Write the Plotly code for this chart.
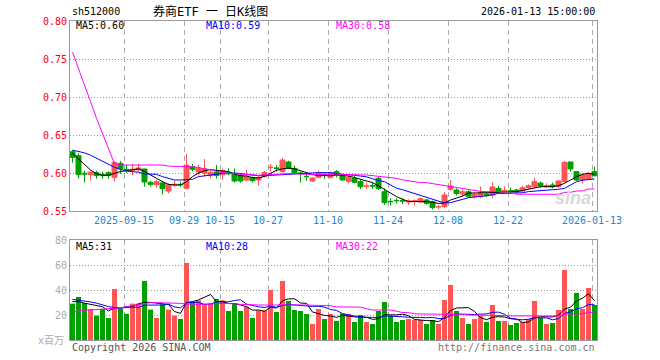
import pandas as pd
import plotly.graph_objects as go

# ---------------- data ----------------
holidays = ["2025-10-01", "2025-10-02", "2025-10-03", "2025-10-06", "2025-10-07", "2025-10-08",
            "2026-01-01", "2026-01-02"]
dates = [d.strftime("%Y-%m-%d") for d in pd.bdate_range("2025-09-02", "2026-01-13")
         if d.strftime("%Y-%m-%d") not in holidays]

tick_dates = ["2025-09-15", "2025-09-29", "2025-10-15", "2025-10-27", "2025-11-10",
              "2025-11-24", "2025-12-08", "2025-12-22", "2026-01-13"]
tick_text = ["2025-09-15", "09-29", "10-15", "10-27", "11-10", "11-24", "12-08", "12-22", "2026-01-13"]

open_ = [0.628, 0.6228, 0.5996, 0.5978, 0.6004, 0.5978, 0.6004, 0.5943, 0.6127, 0.6048,
         0.6035, 0.604, 0.6053, 0.5877, 0.5847, 0.5868, 0.5763, 0.5842, 0.5851, 0.5798,
         0.6083, 0.6013, 0.5996, 0.5965, 0.6009, 0.5978, 0.600, 0.5996, 0.5965, 0.5908,
         0.5939, 0.5908, 0.5952, 0.6070, 0.6066, 0.6018, 0.6145, 0.6061, 0.600, 0.5955,
         0.5895, 0.5943, 0.5982, 0.5943, 0.6018, 0.5961, 0.589, 0.593, 0.5886, 0.5825,
         0.5834, 0.593, 0.5754, 0.5627, 0.5640, 0.5636, 0.5618, 0.5627, 0.5618, 0.5645,
         0.5623, 0.5553, 0.5557, 0.5785, 0.5776, 0.5724, 0.5754, 0.5693, 0.5689, 0.5724,
         0.5711, 0.5798, 0.5746, 0.5768, 0.5776, 0.5763, 0.5807, 0.582, 0.5868, 0.582,
         0.5842, 0.582, 0.5886, 0.6145, 0.6018, 0.5908, 0.5921, 0.6018]
high = [0.630, 0.626, 0.603, 0.6013, 0.603, 0.6018, 0.6022, 0.6154, 0.6158, 0.6105,
        0.6118, 0.6118, 0.6053, 0.5899, 0.5908, 0.5899, 0.5864, 0.5899, 0.5886, 0.625,
        0.6118, 0.6105, 0.6184, 0.604, 0.6105, 0.6057, 0.6061, 0.6061, 0.5996, 0.604,
        0.5952, 0.596, 0.6026, 0.6118, 0.6105, 0.6197, 0.6162, 0.6101, 0.6018, 0.5996,
        0.5943, 0.6031, 0.6004, 0.6018, 0.604, 0.5974, 0.596, 0.596, 0.5908, 0.5873,
        0.5873, 0.5952, 0.5798, 0.5667, 0.5667, 0.5667, 0.5653, 0.5653, 0.568, 0.5658,
        0.5636, 0.5579, 0.5746, 0.5908, 0.5798, 0.5776, 0.5772, 0.5746, 0.582, 0.5754,
        0.5877, 0.5833, 0.5825, 0.5807, 0.579, 0.5833, 0.5851, 0.5939, 0.5886, 0.5864,
        0.5873, 0.5904, 0.6158, 0.6149, 0.6026, 0.5996, 0.6009, 0.6083]
low = [0.6136, 0.593, 0.5873, 0.590, 0.5925, 0.5925, 0.5925, 0.589, 0.599, 0.600,
       0.597, 0.6018, 0.582, 0.582, 0.5807, 0.5715, 0.5732, 0.582, 0.582, 0.5785,
       0.6018, 0.597, 0.5952, 0.593, 0.5925, 0.5908, 0.5969, 0.5873, 0.5873, 0.589,
       0.5873, 0.5833, 0.5943, 0.6018, 0.6018, 0.6004, 0.6048, 0.5982, 0.5873, 0.5899,
       0.5886, 0.593, 0.5921, 0.593, 0.5943, 0.5899, 0.5864, 0.5864, 0.579, 0.579,
       0.579, 0.5776, 0.5579, 0.557, 0.5601, 0.5592, 0.5579, 0.557, 0.561, 0.5583,
       0.5522, 0.5522, 0.5535, 0.5768, 0.5706, 0.5689, 0.5675, 0.5667, 0.5667, 0.5684,
       0.5667, 0.5732, 0.5728, 0.5728, 0.5737, 0.5746, 0.5789, 0.5798, 0.5807, 0.5807,
       0.5798, 0.5798, 0.5877, 0.6018, 0.5895, 0.5864, 0.5908, 0.5952]
close = [0.6206, 0.5978, 0.5987, 0.6013, 0.5965, 0.5969, 0.5969, 0.614, 0.6057, 0.6040,
         0.6048, 0.6066, 0.5882, 0.5851, 0.5886, 0.5794, 0.5846, 0.5851, 0.5846, 0.6105,
         0.6048, 0.6066, 0.6057, 0.6009, 0.5965, 0.6031, 0.5991, 0.5895, 0.5895, 0.5952,
         0.5899, 0.5939, 0.6009, 0.6075, 0.6061, 0.6171, 0.6061, 0.5996, 0.5996, 0.5952,
         0.5934, 0.6004, 0.5974, 0.6004, 0.5974, 0.5908, 0.5943, 0.5877, 0.582, 0.5829,
         0.5829, 0.5798, 0.561, 0.5623, 0.5636, 0.5632, 0.5632, 0.5636, 0.5662, 0.5601,
         0.5544, 0.5557, 0.571, 0.5829, 0.5732, 0.5754, 0.5693, 0.5719, 0.5737, 0.5711,
         0.5816, 0.5754, 0.5772, 0.5754, 0.5754, 0.5807, 0.5833, 0.5886, 0.5829, 0.5833,
         0.582, 0.5895, 0.614, 0.6053, 0.5908, 0.5974, 0.5996, 0.5965]

ma5 = [0.626, 0.619, 0.611, 0.604, 0.599, 0.597, 0.597, 0.5996, 0.602, 0.603,
       0.604, 0.6055, 0.602, 0.597, 0.593, 0.5886, 0.585, 0.5842, 0.5842, 0.5886,
       0.5952, 0.600, 0.603, 0.6045, 0.603, 0.6025, 0.602, 0.5985, 0.5965, 0.596,
       0.594, 0.5935, 0.5955, 0.599, 0.6035, 0.6055, 0.6065, 0.6055, 0.603, 0.600,
       0.598, 0.5965, 0.5965, 0.5965, 0.5975, 0.5965, 0.596, 0.594, 0.592, 0.589,
       0.5873, 0.583, 0.578, 0.5732, 0.569, 0.5655, 0.5625, 0.5625, 0.5625, 0.5623,
       0.5615, 0.560, 0.5605, 0.5645, 0.567, 0.5697, 0.5735, 0.5737, 0.5737, 0.5737,
       0.574, 0.5745, 0.5754, 0.5754, 0.5754, 0.577, 0.579, 0.5807, 0.582, 0.582,
       0.582, 0.5833, 0.5864, 0.5908, 0.5952, 0.5982, 0.5996, 0.598]
ma10 = [0.630, 0.6285, 0.6265, 0.6235, 0.6195, 0.615, 0.6118, 0.6075, 0.6048, 0.6026,
        0.6018, 0.601, 0.5987, 0.5987, 0.5983, 0.5952, 0.593, 0.5908, 0.5908, 0.5908,
        0.5917, 0.5952, 0.5965, 0.5975, 0.5985, 0.5995, 0.600, 0.600, 0.5995, 0.598,
        0.597, 0.5965, 0.5965, 0.597, 0.5975, 0.598, 0.5985, 0.599, 0.5995, 0.600,
        0.6002, 0.6005, 0.6005, 0.6005, 0.599, 0.5985, 0.598, 0.597, 0.596, 0.595,
        0.5925, 0.590, 0.5886, 0.584, 0.580, 0.578, 0.5754, 0.5725, 0.570, 0.5675,
        0.5655, 0.5625, 0.5605, 0.561, 0.563, 0.5645, 0.5675, 0.5684, 0.569, 0.570,
        0.5715, 0.5732, 0.5732, 0.5735, 0.5737, 0.574, 0.5755, 0.5763, 0.5765, 0.577,
        0.578, 0.5785, 0.5798, 0.5842, 0.5886, 0.5905, 0.591, 0.5921]
ma30 = [0.759, 0.738, 0.716, 0.694, 0.672, 0.652, 0.632, 0.612, 0.6105, 0.6105,
        0.6105, 0.6105, 0.6105, 0.6105, 0.6105, 0.6105, 0.609, 0.6085, 0.6085, 0.6085,
        0.6083, 0.6075, 0.605, 0.6045, 0.602, 0.6005, 0.5995, 0.599, 0.5985, 0.5975,
        0.597, 0.597, 0.5975, 0.598, 0.5985, 0.599, 0.5995, 0.5995, 0.5985, 0.598,
        0.598, 0.598, 0.5978, 0.5978, 0.5985, 0.598, 0.5975, 0.5974, 0.5974, 0.5974,
        0.5965, 0.5952, 0.5945, 0.594, 0.593, 0.591, 0.5895, 0.588, 0.5873, 0.5873,
        0.586, 0.5851, 0.584, 0.5825, 0.581, 0.580, 0.579, 0.5776, 0.5758, 0.5754,
        0.5754, 0.5754, 0.5754, 0.5754, 0.572, 0.572, 0.572, 0.572, 0.572, 0.572,
        0.572, 0.572, 0.5745, 0.5746, 0.5763, 0.5765, 0.5789, 0.579]

volume = [29.1, 34.4, 29.6, 24.8, 19.5, 24.8, 17.6, 40.8, 24.8, 21.0,
          29.1, 29.1, 47.2, 24.3, 17.6, 28.5, 24.3, 19.5, 16.8, 61.6,
          30.7, 31.7, 29.1, 29.1, 32.8, 31.7, 23.2, 29.1, 23.2, 26.4,
          17.6, 23.7, 23.7, 40.0, 22.4, 47.2, 31.2, 24.0, 23.2, 20.8,
          12.8, 24.8, 16.8, 20.8, 15.2, 21.3, 20.8, 14.4, 20.0, 14.4,
          12.8, 23.2, 30.4, 19.5, 14.4, 16.0, 16.8, 16.0, 16.0, 12.8,
          16.0, 12.8, 32.0, 44.0, 23.2, 17.6, 12.8, 16.8, 19.2, 14.4,
          28.0, 15.2, 15.2, 12.0, 13.6, 14.4, 16.8, 31.2, 17.6, 12.8,
          13.6, 24.0, 56.0, 24.8, 37.6, 24.8, 41.6, 28.0]
vma5 = [30.7, 30.7, 29.5, 28.5, 27.5, 26.6, 23.3, 25.5, 25.5, 25.8,
        26.7, 29.0, 30.2, 30.1, 29.5, 29.3, 28.4, 22.8, 21.3, 30.1,
        30.6, 32.1, 34.0, 36.4, 30.7, 30.9, 29.2, 29.2, 28.0, 26.7,
        23.9, 24.0, 22.9, 26.3, 25.5, 31.4, 32.9, 33.0, 29.6, 29.3,
        22.4, 21.1, 19.7, 19.2, 18.1, 19.8, 19.0, 18.5, 18.3, 18.2,
        16.5, 17.0, 20.2, 20.1, 20.1, 20.7, 19.4, 16.5, 15.8, 15.5,
        15.5, 14.7, 17.9, 23.5, 25.6, 25.9, 25.9, 22.9, 17.9, 16.2,
        18.2, 18.7, 18.4, 17.0, 16.8, 14.1, 14.4, 17.6, 18.7, 18.6,
        18.4, 19.8, 24.8, 26.2, 31.2, 33.4, 37.0, 31.4]
vma10 = [32.5, 32.0, 31.0, 30.5, 29.5, 28.0, 26.7, 26.0, 25.3, 26.6,
         26.6, 26.1, 27.9, 27.8, 27.6, 28.0, 28.7, 26.5, 25.7, 29.8,
         30.0, 30.2, 28.4, 28.9, 30.4, 30.7, 30.6, 31.6, 32.2, 28.7,
         27.4, 26.6, 26.0, 27.1, 26.1, 27.6, 28.4, 27.9, 27.9, 27.4,
         26.9, 27.0, 26.3, 24.4, 23.7, 21.1, 20.1, 19.1, 18.8, 18.1,
         18.1, 18.0, 19.3, 19.2, 19.1, 18.6, 18.2, 18.4, 18.0, 17.8,
         18.1, 17.1, 17.2, 19.7, 20.6, 20.7, 20.3, 20.4, 20.7, 20.9,
         22.1, 22.3, 20.6, 17.4, 16.5, 16.2, 16.6, 18.0, 17.8, 17.7,
         16.2, 17.1, 21.2, 22.5, 24.9, 25.9, 28.4, 28.1]
vma30 = [22.5, 23.5, 24.0, 24.0, 24.3, 24.5, 24.8, 25.3, 25.8, 26.7,
         27.5, 28.5, 29.5, 29.9, 29.9, 29.9, 29.5, 29.3, 29.3, 28.8,
         28.5, 28.5, 28.5, 28.5, 29.0, 29.3, 29.3, 29.0, 28.5, 28.2,
         28.0, 28.0, 28.0, 28.0, 28.2, 28.5, 28.5, 28.5, 28.3, 28.0,
         27.8, 27.6, 27.5, 27.4, 26.5, 26.5, 26.5, 26.5, 26.3, 25.0,
         24.0, 24.0, 24.0, 24.0, 23.0, 22.0, 21.9, 21.0, 20.8, 20.8,
         20.8, 20.8, 20.8, 20.8, 20.8, 20.5, 20.0, 20.0, 19.8, 19.8,
         19.6, 19.5, 19.5, 19.3, 19.2, 19.2, 19.2, 19.2, 19.2, 19.2,
         19.2, 19.5, 20.8, 20.8, 20.8, 21.0, 21.9, 22.3]

# ---------------- styling ----------------
RED = "#ff5555"
GREEN = "#00a000"
MONO = "DejaVu Sans Mono, Liberation Mono, monospace"
CJK = "DejaVu Sans Mono, Noto Sans CJK SC, sans-serif"

L, R, W, H = 70, 597, 660, 360
x = list(range(len(dates)))
edge = 2.5 / 6.0  # bar centre sits 2.5px right of the day's grid position
tickvals = [dates.index(d) - edge for d in tick_dates]
xrange = [-edge, (R - 72.5) / 6.0]

vol_colors = [RED if c >= o else GREEN for o, c in zip(open_, close)]

fig = go.Figure()
fig.add_trace(go.Candlestick(
    x=x, open=open_, high=high, low=low, close=close,
    increasing=dict(line=dict(color=RED, width=1), fillcolor=RED),
    decreasing=dict(line=dict(color=GREEN, width=1), fillcolor=GREEN),
    whiskerwidth=0, xaxis="x", yaxis="y", hoverinfo="skip"))
for vals, col in [(ma5, "#000000"), (ma10, "#0000ff"), (ma30, "#ff00ff")]:
    fig.add_trace(go.Scatter(x=x, y=vals, mode="lines", line=dict(color=col, width=1),
                             xaxis="x", yaxis="y", hoverinfo="skip"))

fig.add_trace(go.Bar(x=x, y=volume, marker=dict(color=vol_colors, line=dict(width=0)),
                     width=5 / 6.0, xaxis="x2", yaxis="y2", hoverinfo="skip"))
for vals, col in [(vma5, "#000000"), (vma10, "#0000ff"), (vma30, "#ff00ff")]:
    fig.add_trace(go.Scatter(x=x, y=vals, mode="lines", line=dict(color=col, width=1),
                             xaxis="x2", yaxis="y2", hoverinfo="skip"))

def py(px):
    return 1 - px / float(H)

common = dict(showline=True, mirror=True, linecolor="#999999", linewidth=1,
              zeroline=False, ticks="", fixedrange=True, automargin=False, showgrid=True,
              gridwidth=1)

fig.update_layout(
    template="none",
    width=W, height=H, autosize=False,
    margin=dict(l=L, r=W - R, t=0, b=0, pad=0),
    paper_bgcolor="white", plot_bgcolor="white",
    showlegend=False, boxmode="overlay", boxgap=0.17, boxgroupgap=0,
    xaxis=dict(domain=[0, 1], anchor="y", range=xrange, tickmode="array",
               tickvals=tickvals, ticktext=tick_text,
               tickfont=dict(family=MONO, size=10, color="#1a88d0"),
               gridcolor="#aaaaaa", griddash="5px,4px",
               rangeslider=dict(visible=False), **common),
    yaxis=dict(domain=[py(211), py(21)], anchor="x", range=[0.55, 0.80], tickmode="array",
               tickvals=[0.55, 0.60, 0.65, 0.70, 0.75, 0.80], tickformat=".2f",
               tickfont=dict(family=MONO, size=10, color="#ff0000"),
               gridcolor="#999999", griddash="1px,2px", **common),
    xaxis2=dict(domain=[0, 1], anchor="y2", range=xrange, tickmode="array",
                tickvals=tickvals, showticklabels=False,
                gridcolor="#aaaaaa", griddash="5px,4px", **common),
    yaxis2=dict(domain=[py(340), py(240)], anchor="x2", range=[0, 80], tickmode="array",
                tickvals=[20, 40, 60, 80],
                tickfont=dict(family=MONO, size=10, color="#aaaaaa"),
                gridcolor="#999999", griddash="1px,2px", **common),
)

def note(text, xpx, ypx, color="#000000", anchor="left", size=10, family=MONO):
    fig.add_annotation(text=text, xref="paper", yref="paper",
                       x=(xpx - L) / float(R - L), y=py(ypx), xanchor=anchor, yanchor="middle",
                       showarrow=False, font=dict(family=family, size=size, color=color))

note("sh512000", 70, 12)
note("券商ETF 一 日K线图", 210, 12, anchor="center", size=12, family=CJK)
note("2026-01-13 15:00:00", 597, 12, anchor="right")

note("MA5:%.2f" % ma5[-1], 74, 26)
note("MA10:%.2f" % ma10[-1], 204, 26, color="#0000ff")
note("MA30:%.2f" % ma30[-1], 334, 26, color="#ff00ff")

note("MA5:%d" % round(vma5[-1]), 74, 246)
note("MA10:%d" % round(vma10[-1]), 204, 246, color="#0000ff")
note("MA30:%d" % round(vma30[-1]), 334, 246, color="#ff00ff")

note("x百万", 66, 340, color="#aaaaaa", anchor="right", family=CJK)
note("Copyright 2026 SINA.COM", 70, 347, color="#555555")
note("http://finance.sina.com.cn", 597, 347, color="#777777", anchor="right")
note("<b><i>sina</i></b>", 593, 198, color="#d8d8d8", anchor="right", size=18,
     family="Liberation Sans, Arial, sans-serif")

fig.write_html("out.html", config={"responsive": False, "displayModeBar": False},
               post_script="document.body.style.margin='0';document.body.style.padding='0';")
